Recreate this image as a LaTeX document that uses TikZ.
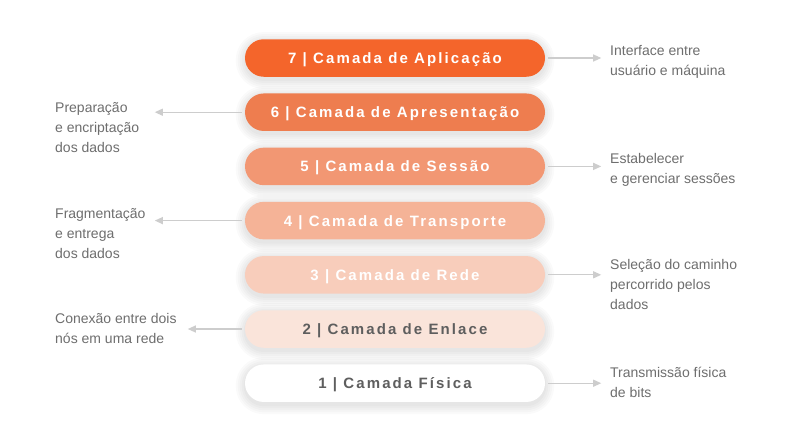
\documentclass[tikz,border=0pt]{standalone}
\usepackage{fontspec}
\setmainfont{Liberation Sans}
\newfontfamily\layerfont[LetterSpace=14]{Liberation Sans}
\usetikzlibrary{positioning, arrows.meta, backgrounds}

\definecolor{c7}{HTML}{F4652B}
\definecolor{c6}{HTML}{EE7D4F}
\definecolor{c5}{HTML}{F29773}
\definecolor{c4}{HTML}{F5B397}
\definecolor{c3}{HTML}{F8CDBB}
\definecolor{c2}{HTML}{FAE4DA}
\definecolor{c1}{HTML}{FFFFFF}
\definecolor{notegray}{HTML}{6E6E6E}
\definecolor{darktext}{HTML}{5E5E5E}
\definecolor{linegray}{HTML}{CDCDCD}

\begin{document}
\begin{tikzpicture}[x=1pt, y=-1pt, >={Triangle[length=8pt, width=7pt]},
		layer/.style={rounded corners=18.75pt, minimum width=300pt, minimum height=37.5pt, text=white,
			text height=10.8pt, text depth=0pt, font=\layerfont\bfseries\fontsize{15}{18}\selectfont},
		glow/.style={fill=black, opacity=0.02},
		note/.style={anchor=north west, align=left, inner sep=0pt, text=notegray, font=\fontsize{14}{20}\selectfont},
		link/.style={->, draw=linegray, line width=1.2pt, shorten <=3pt}]
		\useasboundingbox (0,0) rectangle (792,440);
		% camadas
		\node[layer, fill=c7] (l7) at (395,58) {7 | Camada de Aplicação};
		\node[layer, fill=c6, below=16.3pt of l7] (l6) {6 | Camada de Apresentação};
		\node[layer, fill=c5, below=16.3pt of l6] (l5) {5 | Camada de Sessão};
		\node[layer, fill=c4, below=16.3pt of l5] (l4) {4 | Camada de Transporte};
		\node[layer, fill=c3, below=16.3pt of l4] (l3) {3 | Camada de Rede};
		\node[layer, fill=c2, below=16.3pt of l3, text=darktext] (l2) {2 | Camada de Enlace};
		\node[layer, fill=c1, below=16.3pt of l2, text=darktext] (l1) {1 | Camada Física};
		% sombra
		\begin{scope}[on background layer]
			\fill[white] (0,0) rectangle (792,440);
			\foreach \l in {l1,l2,l3,l4,l5,l6,l7}
				\foreach \g in {1,3,5,7,9}
					\fill[glow, rounded corners=18.75pt+\g pt]
						([shift={(-\g pt,\g pt-2pt)}]\l.north west) rectangle ([shift={(\g pt,-\g pt-3pt)}]\l.south east);
		\end{scope}
		% pontas das setas
		\coordinate[right=56pt of l7.east] (e7);
		\coordinate[left=90pt of l6.west] (e6);
		\coordinate[right=56pt of l5.east] (e5);
		\coordinate[left=90pt of l4.west] (e4);
		\coordinate[right=56pt of l3.east] (e3);
		\coordinate[left=57pt of l2.west] (e2);
		\coordinate[right=56pt of l1.east] (e1);
		\draw[link] (l7) -- (e7);
		\draw[link] (l6) -- (e6);
		\draw[link] (l5) -- (e5);
		\draw[link] (l4) -- (e4);
		\draw[link] (l3) -- (e3);
		\draw[link] (l2) -- (e2);
		\draw[link] (l1) -- (e1);
		% textos
		\node[note] (n7) at (610,45) {Interface entre\\usuário e máquina};
		\node[note] (n6) at (55,102) {Preparação\\e encriptação\\dos dados};
		\node[note] (n5) at (610,153) {Estabelecer\\e gerenciar sessões};
		\node[note] (n4) at (55,208) {Fragmentação\\e entrega\\dos dados};
		\node[note] (n3) at (610,259) {Seleção do caminho\\percorrido pelos\\dados};
		\node[note] (n2) at (55,313) {Conexão entre dois\\nós em uma rede};
		\node[note] (n1) at (610,367) {Transmissão física\\de bits};
	\end{tikzpicture}
\end{document}
